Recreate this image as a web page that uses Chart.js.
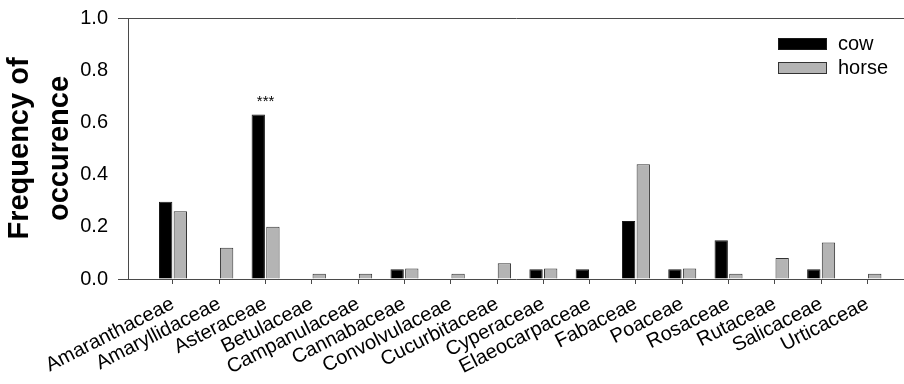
<!DOCTYPE html>
<html>
<head>
<meta charset="utf-8">
<script src="https://cdn.jsdelivr.net/npm/chart.js@4.4.1/dist/chart.umd.min.js"></script>
<style>
  html, body { margin: 0; padding: 0; background: #fff; }
  canvas { display: block; }
</style>
</head>
<body>
<canvas id="chart" width="904" height="384"></canvas>
<script>
// ------------------------------------------------------------
// Frequency of occurrence by plant family, cow vs horse
// ------------------------------------------------------------
const families = [
  "Amaranthaceae", "Amaryllidaceae", "Asteraceae", "Betulaceae",
  "Campanulaceae", "Cannabaceae", "Convolvulaceae", "Cucurbitaceae",
  "Cyperaceae", "Elaeocarpaceae", "Fabaceae", "Poaceae",
  "Rosaceae", "Rutaceae", "Salicaceae", "Urticaceae"
];
const cow   = [0.296, 0, 0.63, 0, 0, 0.037, 0, 0, 0.037, 0.037, 0.222, 0.037, 0.148, 0, 0.037, 0];
const horse = [0.26, 0.12, 0.20, 0.02, 0.02, 0.04, 0.02, 0.06, 0.04, 0, 0.44, 0.04, 0.02, 0.08, 0.14, 0.02];
const signif = ["", "", "***", "", "", "", "", "", "", "", "", "", "", "", "", ""];
const yTicks = [0, 0.2, 0.4, 0.6, 0.8, 1.0];

const FONT = "'Liberation Sans', Arial, sans-serif";
const AXIS = "#4a4a4a";

const toPoints = arr => arr.map((v, i) => ({ x: i, y: v }));

// legend drawn inside the plot, top right
const boxLegend = {
  id: "boxLegend",
  afterDraw(chart) {
    const ctx = chart.ctx;
    ctx.save();
    chart.data.datasets.forEach((ds, i) => {
      const y = 38 + i * 24;
      ctx.fillStyle = ds.backgroundColor;
      ctx.fillRect(778, y, 49, 12);
      ctx.strokeStyle = ds.borderColor;
      ctx.lineWidth = 1;
      ctx.strokeRect(778.5, y + 0.5, 48, 11);
      ctx.fillStyle = "#000";
      ctx.font = "20px " + FONT;
      ctx.textBaseline = "middle";
      ctx.fillText(ds.label, 838, y + 6);
    });
    ctx.restore();
  }
};

// significance stars over the bars
const stars = {
  id: "stars",
  afterDatasetsDraw(chart) {
    const { ctx, scales: { x, y } } = chart;
    ctx.save();
    ctx.fillStyle = "#000";
    ctx.font = "15px " + FONT;
    ctx.textAlign = "center";
    ctx.textBaseline = "alphabetic";
    signif.forEach((s, i) => {
      if (!s) return;
      const top = y.getPixelForValue(Math.max(cow[i], horse[i]));
      ctx.fillText(s, x.getPixelForValue(i), top - 9);
    });
    ctx.restore();
  }
};

new Chart(document.getElementById("chart").getContext("2d"), {
  type: "bar",
  data: {
    datasets: [
      {
        label: "cow",
        data: toPoints(cow),
        backgroundColor: "#000000",
        borderColor: "#1a1a1a",
        borderWidth: 1,
        categoryPercentage: 0.633,
        barPercentage: 0.91
      },
      {
        label: "horse",
        data: toPoints(horse),
        backgroundColor: "#b4b4b4",
        borderColor: "#333333",
        borderWidth: 1,
        categoryPercentage: 0.633,
        barPercentage: 0.91
      }
    ]
  },
  options: {
    responsive: false,
    animation: false,
    layout: { padding: { left: 0, right: 0, top: 18, bottom: 0 } },
    plugins: {
      legend: { display: false },
      tooltip: { enabled: false }
    },
    scales: {
      x: {
        type: "linear",
        offset: false,
        min: -0.972,
        max: 15.79,
        afterBuildTicks: s => { s.ticks = families.map((f, i) => ({ value: i })); },
        afterFit: s => { s.height = 105; s.paddingLeft = 0; s.paddingRight = 0; },
        border: { display: false },
        grid: { offset: false, drawOnChartArea: false, drawTicks: true, tickLength: 5, color: AXIS },
        ticks: {
          autoSkip: false,
          minRotation: 27,
          maxRotation: 27,
          padding: 8,
          color: "#000",
          font: { family: FONT, size: 20 },
          callback: v => families[v] ?? ""
        }
      },
      y: {
        min: 0,
        max: 1,
        afterBuildTicks: s => { s.ticks = yTicks.map(v => ({ value: v })); },
        afterFit: s => { s.width = 128; s.paddingTop = 0; s.paddingBottom = 0; },
        border: { display: true, color: AXIS, width: 1 },
        grid: {
          drawOnChartArea: true,
          drawTicks: true,
          tickLength: 10,
          lineWidth: 1,
          color: c => (c.tick && (c.tick.value === 0 || c.tick.value === 1)) ? AXIS : "rgba(0,0,0,0)"
        },
        ticks: {
          padding: 10,
          color: "#000",
          font: { family: FONT, size: 20 },
          callback: v => Number(v).toFixed(1)
        },
        title: {
          display: true,
          text: ["Frequency of", "occurence"],
          color: "#000",
          padding: 0,
          font: { family: FONT, size: 29, weight: "bold", lineHeight: 1.38 }
        }
      }
    }
  },
  plugins: [boxLegend, stars]
});
</script>
</body>
</html>
